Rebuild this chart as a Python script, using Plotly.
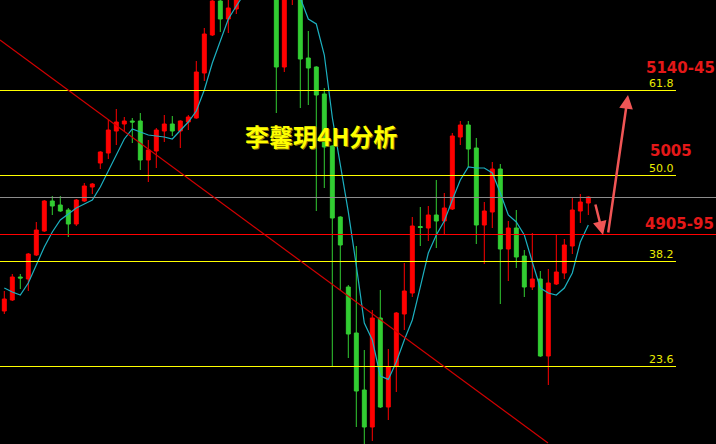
import plotly.graph_objects as go

# ---------------- data ----------------
idx = list(range(74))
opens = [4787.4, 4805.0, 4841.8, 4838.6, 4877.0, 4915.4, 4963.4, 4957.0, 4949.0, 4926.6,
         4963.4, 4985.8, 5024.2, 5040.2, 5075.4, 5086.6, 5091.4, 5091.4, 5029.0, 5043.4,
         5075.4, 5086.6, 5075.4, 5089.8, 5096.2, 5168.2, 5229.0, 5283.4, 5254.6, 5270.6,
         5295.0, 5325.0, 5345.0, 5315.0, 5325.0, 5177.8, 5300.0, 5310.0, 5192.2, 5177.8,
         5134.6, 5051.4, 4937.8, 4825.8, 4752.2, 4661.0, 4601.8, 4776.2, 4633.8, 4699.4,
         4782.6, 4816.2, 4922.6, 4920.2, 4941.0, 4931.4, 4950.6, 5065.8, 5085.0, 5048.2,
         4925.0, 4945.8, 5014.6, 4886.6, 4920.2, 4875.4, 4825.8, 4838.6, 4715.4, 4830.6,
         4848.2, 4891.4, 4947.4, 4960.2]
highs = [4819.4, 4846.6, 4846.6, 4880.2, 4929.8, 4965.0, 4971.4, 4971.4, 4952.2, 4966.6,
         4992.2, 4992.2, 5043.0, 5093.0, 5110.6, 5097.8, 5096.2, 5104.2, 5061.0, 5080.2,
         5101.0, 5099.4, 5092.5, 5101.0, 5187.4, 5240.2, 5290.0, 5290.0, 5290.0, 5305.0,
         5335.0, 5360.0, 5352.0, 5335.0, 5335.0, 5310.0, 5320.0, 5318.0, 5235.4, 5179.0,
         5144.2, 5052.5, 4939.0, 4829.0, 4891.4, 4725.0, 4789.0, 4821.0, 4726.6, 4785.8,
         4864.2, 4937.8, 4953.8, 4955.4, 4997.0, 4976.2, 5072.2, 5091.4, 5091.4, 5064.2,
         4961.8, 5025.8, 5022.6, 4931.4, 4949.0, 4885.0, 4912.2, 4851.4, 4854.6, 4910.6,
         4902.6, 4968.2, 4974.6, 4971.0]
lows = [4782.6, 4803.4, 4822.6, 4819.4, 4875.4, 4914.0, 4941.0, 4946.0, 4905.8, 4923.4,
        4961.8, 4974.6, 5014.6, 5030.6, 5053.0, 5075.4, 5056.2, 5013.0, 4993.8, 5016.2,
        5057.8, 5067.4, 5048.2, 5077.0, 5095.0, 5155.4, 5227.4, 5233.8, 5232.2, 5262.6,
        5290.0, 5310.0, 5305.0, 5298.0, 5104.2, 5169.8, 5277.0, 5112.2, 5117.0, 4947.4,
        4984.2, 4699.4, 4821.0, 4712.2, 4601.8, 4570.0, 4579.4, 4632.2, 4613.0, 4657.8,
        4757.0, 4809.8, 4891.4, 4899.4, 4888.2, 4910.6, 4949.0, 5053.0, 5017.8, 4894.6,
        4862.6, 4920.2, 4798.6, 4835.4, 4856.2, 4809.8, 4821.0, 4714.0, 4669.0, 4829.0,
        4838.6, 4878.6, 4928.2, 4941.0]
closes = [4806.6, 4841.8, 4840.2, 4878.6, 4917.0, 4963.4, 4955.4, 4947.4, 4926.6, 4965.0,
          4987.4, 4990.6, 5041.8, 5077.0, 5089.8, 5091.4, 5089.8, 5029.0, 5045.0, 5077.0,
          5086.6, 5075.4, 5091.4, 5097.8, 5169.8, 5230.6, 5283.4, 5254.6, 5272.2, 5295.0,
          5325.0, 5345.0, 5315.0, 5325.0, 5177.8, 5300.0, 5315.0, 5190.6, 5176.2, 5133.0,
          5049.8, 4936.2, 4893.0, 4750.6, 4659.4, 4601.8, 4776.2, 4633.8, 4697.8, 4784.2,
          4819.4, 4923.4, 4921.0, 4941.0, 4931.4, 4952.2, 5067.4, 5085.0, 5046.6, 4925.0,
          4947.4, 5014.6, 4886.6, 4920.2, 4873.8, 4825.8, 4838.6, 4715.4, 4832.2, 4849.8,
          4893.0, 4949.0, 4961.8, 4969.8]
ma_line = [4824.2, 4817.8, 4813.0, 4832.2, 4861.0, 4889.8, 4913.8, 4933.0, 4942.6, 4952.2,
           4958.6, 4965.0, 4985.8, 5011.4, 5038.6, 5062.6, 5078.6, 5073.8, 5069.0, 5067.4,
           5065.8, 5062.6, 5077.0, 5089.8, 5107.4, 5141.0, 5184.2, 5221.0, 5254.6, 5275.4,
           5295.0, 5310.0, 5320.0, 5325.0, 5318.0, 5305.0, 5295.0, 5288.2, 5254.6, 5246.6,
           5197.0, 5097.0, 5024.0, 4946.0, 4860.0, 4768.0, 4741.0, 4683.4, 4678.0, 4705.8,
           4741.0, 4773.0, 4826.0, 4880.2, 4909.0, 4931.4, 4965.0, 4997.0, 5017.8, 5016.2,
           5016.2, 5008.2, 4976.2, 4941.0, 4929.8, 4909.0, 4865.8, 4824.2, 4816.2, 4813.0,
           4824.2, 4848.2, 4897.8, 4925.0]

fib_levels = [5140.2, 5004.2, 4866.6, 4698.6]
fib_labels = ["61.8", "50.0", "38.2", "23.6"]
support_level = 4909.8
gray_level = 4969.0
trend_x = [-0.54, 67.96]
trend_y = [5221.0, 4576.2]
target_labels = ["5140-45", "5005", "4905-95"]
target_prices = [5176.2, 5043.4, 4926.6]
arrow1 = dict(tail=(73.84, 4960.2), head=(74.84, 4909.0))
arrow2 = dict(tail=(75.46, 4910.6), head=(77.96, 5133.0))
title_text = "李馨玥4H分析"

# ---------------- figure ----------------
X_RANGE = [-0.5375, 88.96]
Y_RANGE = [4574.6, 5285.0]
FIB_END = 83.96
W, H = 716, 444
target_left = [643.5, 648, 643]

fig = go.Figure()
fig.add_trace(go.Candlestick(
    x=idx, open=opens, high=highs, low=lows, close=closes,
    increasing=dict(line=dict(color="#ff0000", width=1), fillcolor="#ff0000"),
    decreasing=dict(line=dict(color="#32cd32", width=1), fillcolor="#32cd32"),
    whiskerwidth=0, showlegend=False, hoverinfo="skip"))
fig.add_trace(go.Scatter(x=idx, y=ma_line, mode="lines",
                         line=dict(color="#1cb0c0", width=1.2), showlegend=False,
                         hoverinfo="skip"))

shapes = []
for lv in fib_levels:
    shapes.append(dict(type="line", xref="x", yref="y", x0=X_RANGE[0], x1=FIB_END,
                       y0=lv, y1=lv, line=dict(color="#ffff00", width=1)))
shapes.append(dict(type="line", xref="paper", yref="y", x0=0, x1=1, y0=gray_level,
                   y1=gray_level, line=dict(color="#8c8c8c", width=1)))
shapes.append(dict(type="line", xref="paper", yref="y", x0=0, x1=1, y0=support_level,
                   y1=support_level, line=dict(color="#ff0000", width=1)))
shapes.append(dict(type="line", xref="x", yref="y", x0=trend_x[0], x1=trend_x[1],
                   y0=trend_y[0], y1=trend_y[1], line=dict(color="#d00000", width=1.2)))

annotations = []
for lv, lab in zip(fib_levels, fib_labels):
    annotations.append(dict(x=FIB_END, y=lv, xref="x", yref="y", text=lab,
                            showarrow=False, xanchor="right", yanchor="bottom", yshift=-1,
                            font=dict(family="DejaVu Sans", size=11, color="#ecec00")))
for lab, pr, xl in zip(target_labels, target_prices, target_left):
    annotations.append(dict(x=xl / W, xref="paper", y=pr, yref="y", text=f"<b>{lab}</b>",
                            showarrow=False, xanchor="left", yanchor="middle",
                            font=dict(family="DejaVu Sans", size=15, color="#e41818")))
for arr in (arrow1, arrow2):
    annotations.append(dict(x=arr["head"][0], y=arr["head"][1], xref="x", yref="y",
                            ax=arr["tail"][0], ay=arr["tail"][1], axref="x", ayref="y",
                            text="", showarrow=True, arrowhead=2, arrowsize=1.1,
                            arrowwidth=2.5, arrowcolor="#f05555"))
annotations.append(dict(x=321 / W, y=1 - 135 / H, xref="paper", yref="paper",
                        xanchor="center", yanchor="middle",
                        text=f"<b>{title_text}</b>", showarrow=False,
                        font=dict(family="Noto Sans CJK SC", size=24, color="#ffff00",
                                  shadow="1px 1px 0px #8a7a00")))

fig.update_layout(
    width=W, height=H, margin=dict(l=0, r=0, t=0, b=0),
    paper_bgcolor="#000000", plot_bgcolor="#000000",
    xaxis=dict(range=X_RANGE, visible=False, rangeslider=dict(visible=False),
               fixedrange=True),
    yaxis=dict(range=Y_RANGE, visible=False, fixedrange=True),
    shapes=shapes, annotations=annotations, showlegend=False,
)
fig.write_html("out.html", config={"displayModeBar": False},
               post_script="document.body.style.margin='0';"
                           "document.body.style.background='#000';")
